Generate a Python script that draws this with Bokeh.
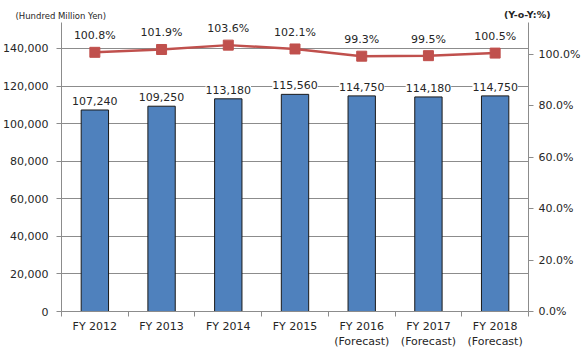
from bokeh.plotting import figure
from bokeh.models import (ColumnDataSource, Range1d, LinearAxis, FixedTicker, LabelSet, Title,
                          NumeralTickFormatter)
from bokeh.core.properties import value
from bokeh.embed import file_html
from bokeh.resources import INLINE

years = ["FY 2012", "FY 2013", "FY 2014", "FY 2015", "FY 2016\n(Forecast)", "FY 2017\n(Forecast)", "FY 2018\n(Forecast)"]
sales = [107240, 109250, 113180, 115560, 114750, 114180, 114750]
yoy = [100.8, 101.9, 103.6, 102.1, 99.3, 99.5, 100.5]
left_ticks = [0, 20000, 40000, 60000, 80000, 100000, 120000, 140000]
right_ticks = [0, 20, 40, 60, 80, 100]

FONT = "DejaVu Sans"
FS = "11px"
xs = list(range(1, len(years) + 1))
src = ColumnDataSource(dict(
    x=xs, sales=sales, yoy=yoy,
    sales_lbl=[f"{v:,}" for v in sales],
    yoy_lbl=[f"{v:.1f}%" for v in yoy],
))

p = figure(frame_width=467, frame_height=289, output_backend="svg", toolbar_location=None,
           x_range=Range1d(0.5, len(years) + 0.5), y_range=Range1d(0, 153800),
           min_border_left=54, min_border_right=49, min_border_top=22, min_border_bottom=30)
p.outline_line_color = None
p.background_fill_color = "white"
p.extra_y_ranges = {"pct": Range1d(0, 112.4)}

p.xgrid.grid_line_color = None
p.ygrid.grid_line_color = "#8c8c8c"
p.ygrid.ticker = FixedTicker(ticks=left_ticks)

p.vbar(x="x", top="sales", width=0.41, source=src, fill_color="#4F81BD",
       line_color="#1a1a1a", line_width=1)
p.line(x="x", y="yoy", source=src, y_range_name="pct", line_color="#C0504D", line_width=2.5)
p.scatter(x="x", y="yoy", source=src, y_range_name="pct", marker="square", size=10,
          fill_color="#C0504D", line_color="#C0504D")

p.add_layout(LabelSet(x="x", y="sales", text="sales_lbl", source=src, text_align="center",
                      text_baseline="bottom", y_offset=5, text_font=value(FONT), text_font_size=value(FS),
                      text_color="#262626", background_fill_color="white"))
p.add_layout(LabelSet(x="x", y="yoy", text="yoy_lbl", source=src, y_range_name="pct",
                      text_align="center", text_baseline="bottom", y_offset=10, text_font=value(FONT),
                      text_font_size=value(FS), text_color="#262626", background_fill_color="white"))

# x axis
xa = p.xaxis[0]
xa.ticker = FixedTicker(ticks=xs, minor_ticks=[x + 0.5 for x in [0] + xs])
xa.major_label_overrides = {i: lab for i, lab in zip(xs, years)}
xa.major_tick_out = 0
xa.major_tick_in = 0
xa.minor_tick_out = 5
xa.minor_tick_in = 0
xa.minor_tick_line_color = "#8c8c8c"
xa.axis_line_color = "#8c8c8c"
xa.major_label_text_font = FONT
xa.major_label_text_font_size = FS
xa.major_label_text_color = "#262626"
xa.major_label_standoff = 3

ya = p.yaxis[0]
ya.ticker = FixedTicker(ticks=left_ticks)
ya.formatter = NumeralTickFormatter(format="0,0")
ya.major_tick_out = 5
ya.major_tick_in = 0
ya.minor_tick_out = 0
ya.axis_line_color = "#8c8c8c"
ya.major_tick_line_color = "#8c8c8c"
ya.major_label_text_font = FONT
ya.major_label_text_font_size = FS
ya.major_label_text_color = "#262626"
ya.major_label_standoff = 8

ra = LinearAxis(y_range_name="pct", ticker=FixedTicker(ticks=right_ticks),
                formatter=NumeralTickFormatter(format="0.0"))
ra.major_label_overrides = {t: f"{t:.1f}%" for t in right_ticks}
ra.major_tick_out = 5
ra.major_tick_in = 0
ra.minor_tick_out = 0
ra.axis_line_color = "#8c8c8c"
ra.major_tick_line_color = "#8c8c8c"
ra.major_label_text_font = FONT
ra.major_label_text_font_size = FS
ra.major_label_text_color = "#262626"
p.add_layout(ra, "right")

p.title.text = "(Hundred Million Yen)"
p.title.align = "left"
p.title.offset = -46
p.title.text_font = FONT
p.title.text_font_size = "8.5px"
p.title.text_font_style = "normal"
p.title.text_color = "#262626"
p.title.standoff = -28
p.add_layout(Title(text="(Y-o-Y:%)", align="right", offset=-22, text_font=FONT,
                   text_font_size="9.5px", text_font_style="bold", text_color="#262626",
                   vertical_align="middle", standoff=3), "above")

open("out.html", "w").write(file_html(p, INLINE))
